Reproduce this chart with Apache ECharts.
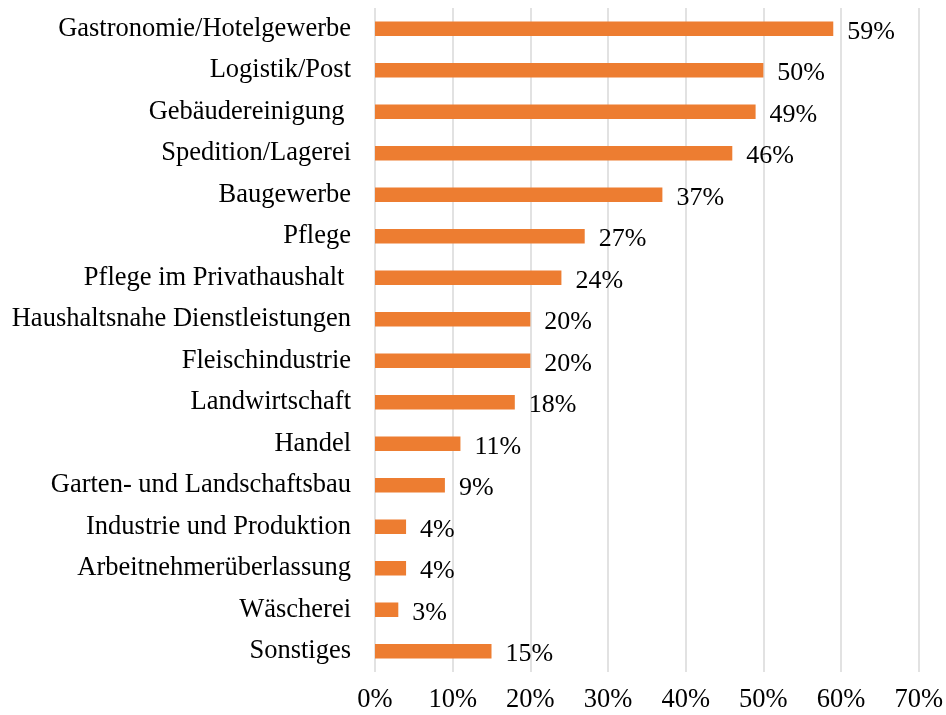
<!DOCTYPE html>
<html>
<head>
<meta charset="utf-8">
<script src="https://cdn.jsdelivr.net/npm/echarts@6/dist/echarts.min.js"></script>
<style>html,body{margin:0;padding:0;background:#fff}#c{width:946px;height:715px}</style>
</head>
<body>
<div id="c"></div>
<script>
const categories = ["Gastronomie/Hotelgewerbe","Logistik/Post","Gebäudereinigung ","Spedition/Lagerei","Baugewerbe","Pflege","Pflege im Privathaushalt ","Haushaltsnahe Dienstleistungen","Fleischindustrie","Landwirtschaft","Handel","Garten- und Landschaftsbau","Industrie und Produktion","Arbeitnehmerüberlassung","Wäscherei","Sonstiges"];
const values = [59,50,49,46,37,27,24,20,20,18,11,9,4,4,3,15];
const xTicks = [0,10,20,30,40,50,60,70];

const font = "'Liberation Serif','Times New Roman',serif";
const chart = echarts.init(document.getElementById('c'));
chart.setOption({
  animation:false,
  grid:{left:375,right:23,top:8,bottom:43,containLabel:false},
  xAxis:{type:'value',min:xTicks[0],max:xTicks[xTicks.length-1],interval:10,
    axisLine:{show:false},axisTick:{show:false},
    splitLine:{show:true,lineStyle:{color:'#d9d9d9',width:1.5}},
    axisLabel:{formatter:'{value}%',fontFamily:font,fontSize:26.5,color:'#000',margin:15}},
  yAxis:{type:'category',data:categories,inverse:true,
    axisLine:{show:false},axisTick:{show:false},
    axisLabel:{fontFamily:font,fontSize:26.5,color:'#000',margin:24}},
  series:[{type:'bar',data:values,barWidth:'35%',itemStyle:{color:'#ED7D31'},
    label:{show:true,position:'right',distance:14,formatter:'{c}%',fontFamily:font,fontSize:26,color:'#000',offset:[0,3]}}]
});
</script>
</body>
</html>
